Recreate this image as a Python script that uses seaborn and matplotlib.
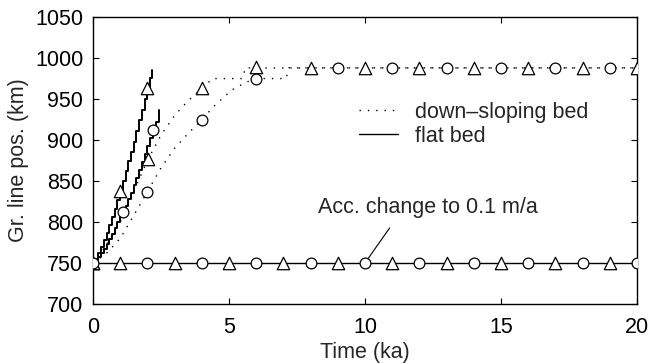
import matplotlib
matplotlib.use("Agg")
import matplotlib.pyplot as plt
import seaborn as sns
import pandas as pd

# ---------------- data ----------------
# flat bed, triangle run (staircase)
flat_tri_t = [0.0, 0.1, 0.2, 0.3, 0.4, 0.5, 0.6, 0.7, 0.8, 0.9, 1.0, 1.1, 1.2,
              1.3, 1.4, 1.5, 1.6, 1.7, 1.8, 1.9, 2.0, 2.1, 2.18]
flat_tri_y = [750, 755, 762, 770, 778, 787, 796, 806, 816, 827, 838, 850, 862,
              874, 886, 898, 911, 924, 937, 950, 963, 976, 986]
# flat bed, circle run (staircase)
flat_cir_t = [0.0, 0.1, 0.2, 0.3, 0.4, 0.5, 0.6, 0.7, 0.8, 0.9, 1.0, 1.1, 1.2,
              1.3, 1.4, 1.5, 1.6, 1.7, 1.8, 1.9, 2.0, 2.1, 2.2, 2.3, 2.43]
flat_cir_y = [750, 753, 757, 762, 767, 773, 779, 786, 793, 800, 806, 812, 820,
              828, 836, 845, 854, 863, 873, 883, 893, 903, 912, 922, 937]
# down-sloping bed, triangle run
down_tri_t = [0.0, 0.5, 1.0, 1.5, 2.03, 2.5, 3.0, 3.5, 4.0, 4.4, 5.5, 5.6, 20.0]
down_tri_y = [750, 772, 800, 838, 877, 906, 930, 948, 963, 975, 975, 988, 988]
# down-sloping bed, circle run
down_cir_t = [0.0, 0.5, 1.0, 1.5, 2.0, 2.5, 3.0, 3.5, 4.0, 4.5, 5.1, 5.6, 6.0,
              7.1, 7.2, 20.0]
down_cir_y = [750, 762, 780, 808, 837, 866, 890, 908, 925, 943, 961, 970, 975,
              975, 988, 988]
# accumulation change to 0.1 m/a: stays at 750
base_t = [0.0, 20.0]
base_y = [750, 750]

# marker positions
tri_mark_t = [0, 1, 2, 0, 2.03, 4, 6, 8, 10, 12, 14, 16, 18, 20,
              1, 3, 5, 7, 9, 11, 13, 15, 17, 19]
tri_mark_y = [750, 838, 963, 750, 877, 963, 989, 988, 988, 988, 988, 988, 988, 988,
              750, 750, 750, 750, 750, 750, 750, 750, 750, 750]
cir_mark_t = [0, 1.11, 2.22, 2.0, 4.0, 6.0, 9, 11, 13, 15, 17, 19,
              2, 4, 6, 8, 10, 12, 14, 16, 18, 20]
cir_mark_y = [750, 812, 912, 837, 925, 975, 988, 988, 988, 988, 988, 988,
              750, 750, 750, 750, 750, 750, 750, 750, 750, 750]

x_ticks = [0, 5, 10, 15, 20]
y_ticks = [700, 750, 800, 850, 900, 950, 1000, 1050]
legend_labels = ["down\u2013sloping bed", "flat bed"]
annot_text = "Acc. change to 0.1 m/a"

# ---------------- style ----------------
sns.set_style("ticks")
plt.rcParams["font.family"] = ["Liberation Sans", "DejaVu Sans"]
plt.rcParams["xtick.direction"] = "in"
plt.rcParams["ytick.direction"] = "in"

FS = 15.5
fig = plt.figure(figsize=(6.52, 3.63), dpi=100)
ax = fig.add_axes([0.1426, 0.1625, 0.977 - 0.1426, 0.953 - 0.1625])

k = "black"
dots = (0, (1, 5))
sns.lineplot(x=down_tri_t, y=down_tri_y, ax=ax, color=k, lw=1.0, ls=dots,
             estimator=None, sort=False)
sns.lineplot(x=down_cir_t, y=down_cir_y, ax=ax, color=k, lw=1.0, ls=dots,
             estimator=None, sort=False)
sns.lineplot(x=flat_tri_t, y=flat_tri_y, ax=ax, color=k, lw=1.4,
             drawstyle="steps-post", estimator=None, sort=False)
sns.lineplot(x=flat_cir_t, y=flat_cir_y, ax=ax, color=k, lw=1.4,
             drawstyle="steps-post", estimator=None, sort=False)
sns.lineplot(x=base_t, y=base_y, ax=ax, color=k, lw=1.0,
             estimator=None, sort=False)

sns.scatterplot(x=tri_mark_t, y=tri_mark_y, ax=ax, marker="^", s=80,
                fc="white", ec=k, linewidth=0.9, zorder=5)
sns.scatterplot(x=cir_mark_t, y=cir_mark_y, ax=ax, marker="o", s=60,
                fc="white", ec=k, linewidth=0.9, zorder=5)

# legend (line samples only)
h1, = ax.plot([], [], color=k, ls=dots, lw=1.0)
h2, = ax.plot([], [], color=k, ls="-", lw=1.0)
ax.legend([h1, h2], legend_labels, loc="upper left",
          bbox_to_anchor=(0.474, 0.735), frameon=False, fontsize=FS,
          handlelength=1.8, handletextpad=0.8, labelspacing=0.15,
          borderaxespad=0)

ax.annotate(annot_text, xy=(10, 750), xytext=(12.3, 818),
            ha="center", va="center", fontsize=FS,
            arrowprops=dict(arrowstyle="-", color=k, lw=0.8,
                            relpos=(0.36, 0.0), shrinkA=6, shrinkB=4))

ax.set_xlim(0, 20)
ax.set_ylim(700, 1050)
ax.set_xticks(x_ticks)
ax.set_yticks(y_ticks)
ax.tick_params(axis="both", labelsize=FS, length=4, width=0.8,
               top=True, right=True, colors=k)
ax.tick_params(axis="x", pad=9)
ax.tick_params(axis="y", pad=7)
for sp in ax.spines.values():
    sp.set_visible(True)
    sp.set_linewidth(1.0)
    sp.set_color(k)
ax.set_xlabel("Time (ka)", fontsize=FS, labelpad=3)
ax.set_ylabel("Gr. line pos. (km)", fontsize=FS, labelpad=4)

fig.savefig("out.png", dpi=100)
